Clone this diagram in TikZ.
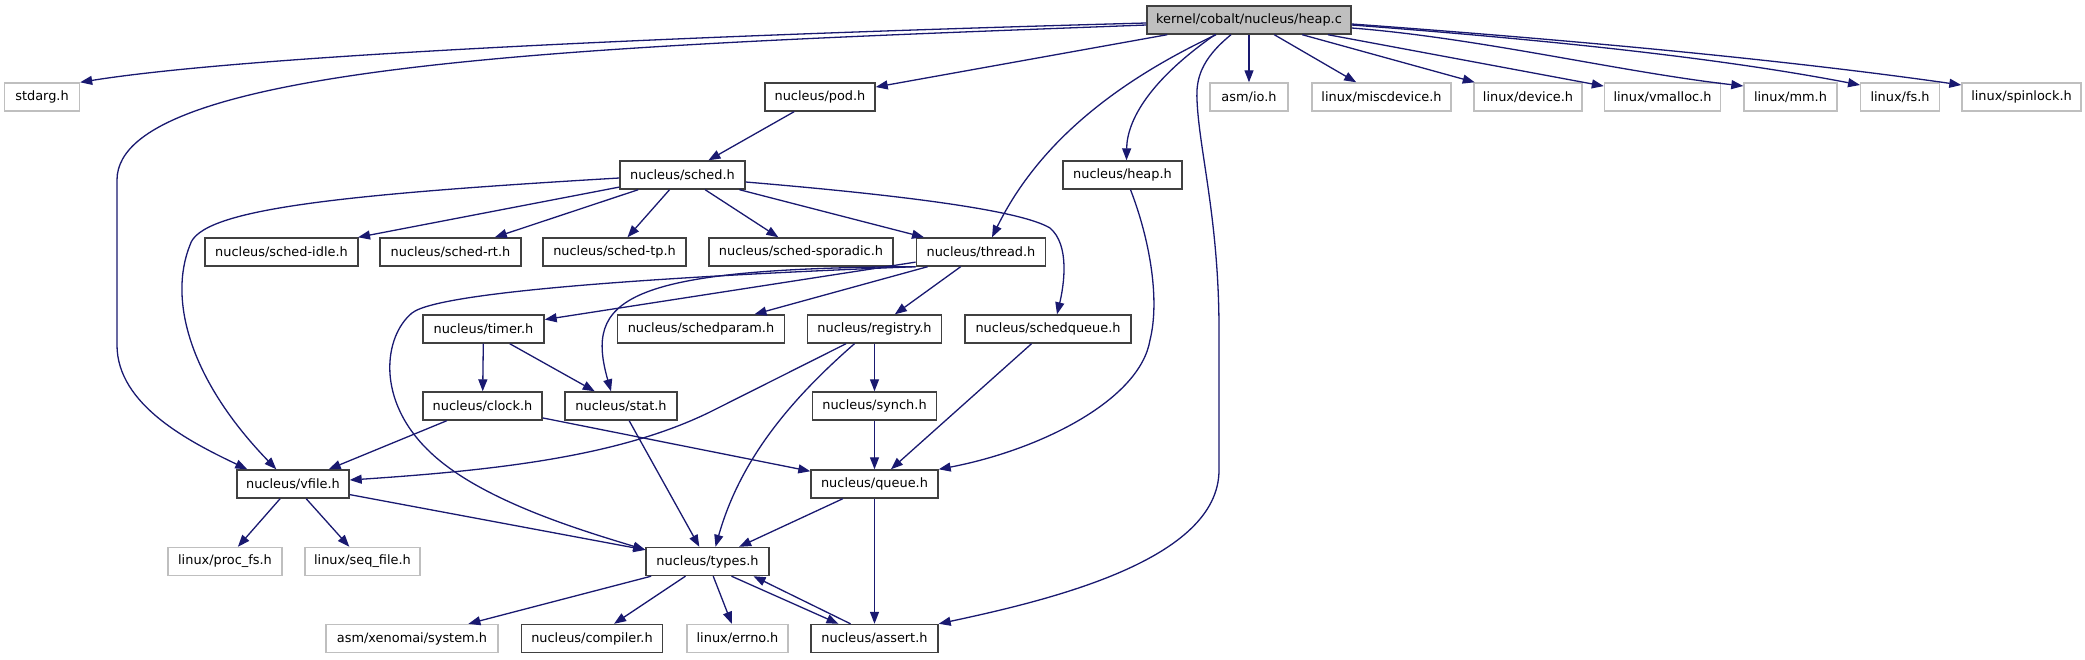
\documentclass[tikz,border=0pt]{standalone}
\usepackage{fontspec}
\setmainfont{DejaVu Sans}
\usetikzlibrary{arrows.meta, calc}
\definecolor{edgeCol}{HTML}{191970}
\definecolor{greyfill}{HTML}{BFBFBF}
\definecolor{boxline}{HTML}{404040}

\begin{document}
\begin{tikzpicture}[
    x=1pt, y=-1pt,
    >={Triangle[length=12pt, width=9pt]},
    basebox/.style={rectangle, minimum height=28, inner sep=0pt, line width=1.4pt, anchor=center, text=black, font=\fontsize{12.9}{15}\selectfont},
    srcbox/.style={basebox, draw=boxline, fill=greyfill},
    docbox/.style={basebox, draw=boxline, fill=white},
    extbox/.style={basebox, draw=greyfill, fill=white},
    dep/.style={->, draw=edgeCol, line width=1.3pt}
]
\useasboundingbox (0,0) rectangle (2085,659);

% --- 1. SOURCE FILE ---
\node[srcbox, minimum width=204] (HEAP_C) at (1249,20) {kernel/cobalt/nucleus/heap.c};

% --- 2. FIRST ROW ---
\node[extbox, minimum width=75] (STDARG_H) at (42,97) {stdarg.h};
\node[docbox, minimum width=110] (POD_H) at (820,97) {nucleus/pod.h};
\node[extbox, minimum width=78] (ASMIO_H) at (1249,97) {asm/io.h};
\node[extbox, minimum width=139] (MISCDEV_H) at (1381.5,97) {linux/miscdevice.h};
\node[extbox, minimum width=108] (DEVICE_H) at (1528,97) {linux/device.h};
\node[extbox, minimum width=116] (VMALLOC_H) at (1662.5,97) {linux/vmalloc.h};
\node[extbox, minimum width=93] (MM_H) at (1790.5,97) {linux/mm.h};
\node[extbox, minimum width=78.5] (FS_H) at (1900,97) {linux/fs.h};
\node[extbox, minimum width=119] (SPINLOCK_H) at (2021.5,97) {linux/spinlock.h};

% --- 3. SCHEDULER HEADERS ---
\node[docbox, minimum width=125] (SCHED_H) at (682.5,175) {nucleus/sched.h};
\node[docbox, minimum width=119] (HEAP_H) at (1122.5,175) {nucleus/heap.h};

\node[docbox, minimum width=153] (SCHEDIDLE_H) at (281.5,252) {nucleus/sched-idle.h};
\node[docbox, minimum width=141] (SCHEDRT_H) at (450.5,252) {nucleus/sched-rt.h};
\node[docbox, minimum width=143] (SCHEDTP_H) at (614.5,252) {nucleus/sched-tp.h};
\node[docbox, minimum width=184] (SPORADIC_H) at (801,252) {nucleus/sched-sporadic.h};
\node[docbox, minimum width=129.5] (THREAD_H) at (981,252) {nucleus/thread.h};

% --- 4. THREAD DEPENDENCIES ---
\node[docbox, minimum width=121] (TIMER_H) at (483.5,329) {nucleus/timer.h};
\node[docbox, minimum width=166.5] (SCHEDPARAM_H) at (701,329) {nucleus/schedparam.h};
\node[docbox, minimum width=133.5] (REGISTRY_H) at (874.5,329) {nucleus/registry.h};
\node[docbox, minimum width=166] (SCHEDQUEUE_H) at (1048,329) {nucleus/schedqueue.h};

\node[docbox, minimum width=119] (CLOCK_H) at (482.5,406) {nucleus/clock.h};
\node[docbox, minimum width=112] (STAT_H) at (621,406) {nucleus/stat.h};
\node[docbox, minimum width=124] (SYNCH_H) at (874.5,406) {nucleus/synch.h};

\node[docbox, minimum width=112] (VFILE_H) at (293,484) {nucleus/vfile.h};
\node[docbox, minimum width=127] (QUEUE_H) at (874.5,484) {nucleus/queue.h};

% --- 5. BOTTOM ROWS ---
\node[extbox, minimum width=114] (PROCFS_H) at (225,561.5) {linux/proc\_fs.h};
\node[extbox, minimum width=115] (SEQFILE_H) at (362.5,561.5) {linux/seq\_file.h};
\node[docbox, minimum width=123] (TYPES_H) at (707.5,561.5) {nucleus/types.h};

\node[extbox, minimum width=172] (SYSTEM_H) at (412,638.5) {asm/xenomai/system.h};
\node[docbox, minimum width=141.5] (COMPILER_H) at (592,638.5) {nucleus/compiler.h};
\node[extbox, minimum width=101] (ERRNO_H) at (737.5,638.5) {linux/errno.h};
\node[docbox, minimum width=127] (ASSERT_H) at (874.5,638.5) {nucleus/assert.h};

% --- 6. INCLUDES OF heap.c ---
\draw[dep] ($(HEAP_C.west)+(0,3)$) .. controls (700,35) and (250,55) .. (STDARG_H.north east);
\draw[dep] ($(HEAP_C.west)+(0,5)$) .. controls (620,45) and (117,60) .. (117,180) -- (117,345)
    .. controls (117,405) and (190,442) .. ($(VFILE_H.north west)+(11,0)$);
\draw[dep] (HEAP_C) -- (POD_H);
\draw[dep] ($(HEAP_C.south)+(-33,0)$) .. controls (1120,80) and (1040,140) .. ($(THREAD_H.north)+(11,0)$);
\draw[dep] ($(HEAP_C.south)+(-34,0)$) .. controls (1150,80) and (1127,120) .. ($(HEAP_H.north)+(4,0)$);
\draw[dep] ($(HEAP_C.south)+(-18,0)$) .. controls (1200,60) and (1196,80) .. (1197,100)
    .. controls (1199,150) and (1219,220) .. (1219,330) -- (1219,470)
    .. controls (1219,560) and (1050,600) .. (ASSERT_H.north east);
\draw[dep] (HEAP_C) -- (ASMIO_H);
\draw[dep] (HEAP_C) -- (MISCDEV_H);
\draw[dep] (HEAP_C) -- (DEVICE_H);
\draw[dep] (HEAP_C) -- (VMALLOC_H);
\draw[dep] ($(HEAP_C.east)+(0,8)$) .. controls (1480,38) and (1620,72) .. ($(MM_H.west)+(0,-11)$);
\draw[dep] ($(HEAP_C.east)+(0,5)$) .. controls (1550,40) and (1720,58) .. ($(FS_H.west)+(0,-12)$);
\draw[dep] ($(HEAP_C.east)+(0,4)$) .. controls (1600,42) and (1800,62) .. ($(SPINLOCK_H.west)+(0,-12)$);

% --- 7. SCHEDULER EDGES ---
\draw[dep] (POD_H) -- (SCHED_H);
\draw[dep] (SCHED_H) -- (SCHEDIDLE_H);
\draw[dep] (SCHED_H) -- (SCHEDRT_H);
\draw[dep] (SCHED_H) -- (SCHEDTP_H);
\draw[dep] (SCHED_H) -- (SPORADIC_H);
\draw[dep] (SCHED_H) -- (THREAD_H);
\draw[dep] ($(SCHED_H.east)+(0,7)$) .. controls (900,195) and (1020,210) .. (1050,228)
    .. controls (1070,245) and (1064,285) .. ($(SCHEDQUEUE_H.north)+(9,0)$);
\draw[dep] ($(SCHED_H.west)+(0,3)$) .. controls (330,195) and (200,210) .. (190,245)
    .. controls (168,300) and (190,380) .. ($(VFILE_H.north west)+(40,0)$);

% --- 8. THREAD EDGES ---
\draw[dep] (THREAD_H) -- (TIMER_H);
\draw[dep] (THREAD_H) -- (SCHEDPARAM_H);
\draw[dep] (THREAD_H) -- (REGISTRY_H);
\draw[dep] (THREAD_H.south west) .. controls (620,268) and (585,300) .. ($(STAT_H.north)+(-10,0)$);
\draw[dep] (THREAD_H.south west) .. controls (700,275) and (440,290) .. (412,313)
    .. controls (384,336) and (375,400) .. (430,452)
    .. controls (480,500) and (580,530) .. ($(TYPES_H.north west)+(0,3)$);

% --- 9. LOWER EDGES ---
\draw[dep] (TIMER_H) -- (CLOCK_H);
\draw[dep] (TIMER_H) -- (STAT_H);
\draw[dep] (CLOCK_H) -- (VFILE_H);
\draw[dep] (CLOCK_H) -- (QUEUE_H);
\draw[dep] (STAT_H) -- (TYPES_H);
\draw[dep] ($(REGISTRY_H.south west)+(39,0)$) -- (710,412) .. controls (620,456) and (500,470) .. ($(VFILE_H.east)+(0,-4)$);
\draw[dep] ($(REGISTRY_H.south)+(-20,0)$) .. controls (790,400) and (740,460) .. ($(TYPES_H.north)+(8,0)$);
\draw[dep] (REGISTRY_H) -- (SYNCH_H);
\draw[dep] (SCHEDQUEUE_H) -- (QUEUE_H);
\draw[dep] ($(HEAP_H.south)+(8,0)$) .. controls (1150,240) and (1160,300) .. (1150,340)
    .. controls (1140,400) and (1040,450) .. (QUEUE_H.north east);
\draw[dep] (SYNCH_H) -- (QUEUE_H);
\draw[dep] (VFILE_H) -- (PROCFS_H);
\draw[dep] (VFILE_H) -- (SEQFILE_H);
\draw[dep] (VFILE_H) -- (TYPES_H);
\draw[dep] (QUEUE_H) -- (TYPES_H);
\draw[dep] (QUEUE_H) -- (ASSERT_H);
\draw[dep] (TYPES_H) -- (SYSTEM_H);
\draw[dep] (TYPES_H) -- (COMPILER_H);
\draw[dep] (TYPES_H) -- (ERRNO_H);
\draw[dep] ($(TYPES_H.south)+(24,0)$) -- ($(ASSERT_H.north)+(-36,0)$);
\draw[dep] ($(ASSERT_H.north)+(-24,0)$) -- ($(TYPES_H.south)+(46,0)$);

\end{tikzpicture}
\end{document}
